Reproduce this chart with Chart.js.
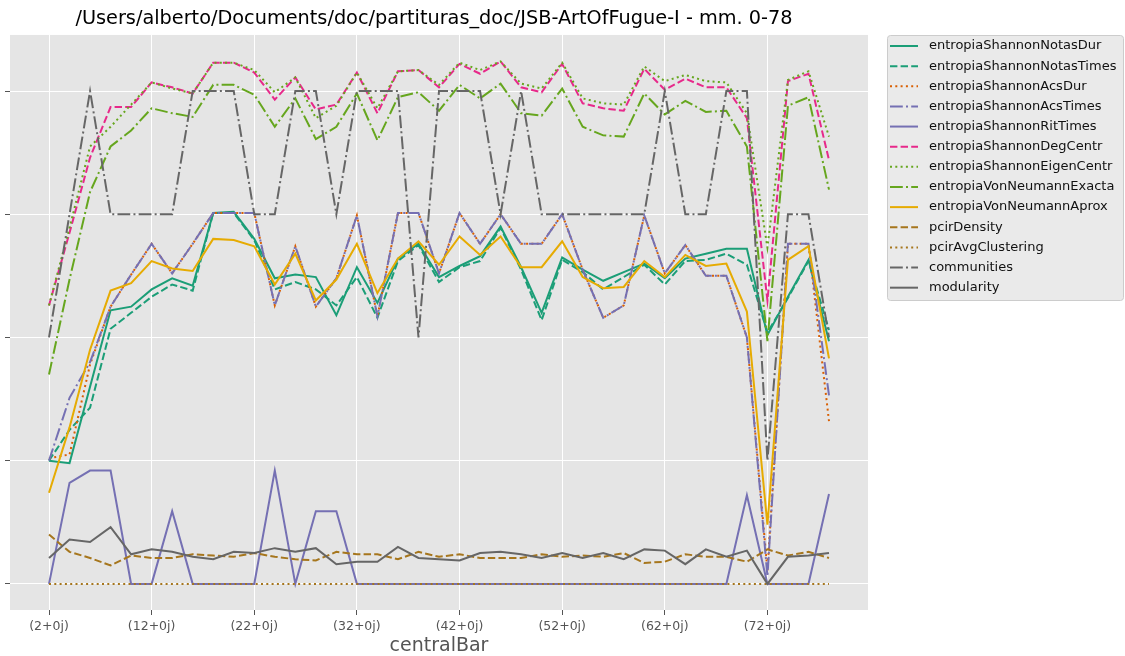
<!DOCTYPE html>
<html>
<head>
<meta charset="utf-8">
<title>JSB-ArtOfFugue-I - mm. 0-78</title>
<script src="https://cdn.jsdelivr.net/npm/chart.js@4.4.0/dist/chart.umd.min.js"></script>
<style>
  html, body { margin: 0; padding: 0; background: #fff; }
</style>
</head>
<body>
<canvas id="chart" width="1125" height="656"></canvas>
<script>
// x values (central bar of each window) and the bars that get a tick label
const centralBar = [2, 4, 6, 8, 10, 12, 14, 16, 18, 20, 22, 24, 26, 28, 30, 32, 34, 36, 38, 40,
  42, 44, 46, 48, 50, 52, 54, 56, 58, 60, 62, 64, 66, 68, 70, 72, 74, 76, 78]
const tickBars = [2, 12, 22, 32, 42, 52, 62, 72]

const notasDur = [1.00, 0.98, 1.60, 2.22, 2.25, 2.39, 2.48, 2.42, 3.01, 3.02, 2.80, 2.48, 2.51, 2.49, 2.18, 2.57, 2.28, 2.64, 2.76, 2.49,
  2.58, 2.66, 2.90, 2.57, 2.20, 2.65, 2.55, 2.46, 2.53, 2.60, 2.48, 2.64, 2.68, 2.72, 2.72, 2.02, 2.33, 2.63, 1.97]
const notasTimes = [1.00, 1.25, 1.43, 2.07, 2.20, 2.33, 2.43, 2.38, 3.01, 3.01, 2.79, 2.39, 2.45, 2.39, 2.26, 2.49, 2.16, 2.62, 2.75, 2.45,
  2.57, 2.62, 2.89, 2.55, 2.14, 2.63, 2.53, 2.39, 2.49, 2.59, 2.43, 2.62, 2.63, 2.68, 2.59, 2.04, 2.32, 2.62, 2.06]
const acsDur = [1.02, 1.05, 1.78, 2.25, 2.51, 2.76, 2.52, 2.76, 3.01, 3.01, 3.01, 2.26, 2.74, 2.25, 2.48, 2.99, 2.17, 3.01, 3.01, 2.52,
  3.01, 2.76, 3.00, 2.76, 2.76, 3.00, 2.55, 2.16, 2.26, 2.99, 2.52, 2.75, 2.50, 2.50, 2.00, 0.11, 2.76, 2.76, 1.32]
const acsTimes = [1.00, 1.51, 1.80, 2.25, 2.51, 2.76, 2.52, 2.76, 3.01, 3.01, 3.01, 2.26, 2.74, 2.25, 2.48, 2.99, 2.17, 3.01, 3.01, 2.52,
  3.01, 2.76, 3.00, 2.76, 2.76, 3.00, 2.55, 2.16, 2.26, 2.99, 2.52, 2.75, 2.50, 2.50, 2.00, 0.06, 2.76, 2.76, 1.53]
const ritTimes = [0, 0.82, 0.92, 0.92, 0, 0, 0.59, 0, 0, 0, 0, 0.92, 0, 0.59, 0.59, 0, 0, 0, 0, 0,
  0, 0, 0, 0, 0, 0, 0, 0, 0, 0, 0, 0, 0, 0, 0.72, 0, 0, 0, 0.73]
const degCentr = [2.26, 2.85, 3.46, 3.87, 3.87, 4.07, 4.03, 3.98, 4.23, 4.23, 4.15, 3.93, 4.11, 3.85, 3.89, 4.15, 3.82, 4.16, 4.17, 4.03,
  4.22, 4.14, 4.24, 4.03, 3.99, 4.22, 3.90, 3.86, 3.84, 4.18, 4.01, 4.10, 4.03, 4.03, 3.78, 2.30, 4.08, 4.14, 3.44]
const eigenCentr = [2.26, 2.89, 3.55, 3.71, 3.89, 4.07, 4.02, 3.98, 4.23, 4.23, 4.17, 3.99, 4.11, 3.78, 3.88, 4.15, 3.86, 4.16, 4.17, 4.05,
  4.23, 4.17, 4.24, 4.06, 4.02, 4.23, 3.94, 3.90, 3.89, 4.20, 4.08, 4.13, 4.08, 4.07, 3.82, 2.73, 4.09, 4.16, 3.63]
const vnExacta = [1.70, 2.47, 3.18, 3.55, 3.68, 3.86, 3.82, 3.79, 4.05, 4.05, 3.97, 3.71, 3.94, 3.61, 3.71, 3.98, 3.60, 3.95, 3.99, 3.84,
  4.05, 3.94, 4.06, 3.82, 3.80, 4.02, 3.71, 3.64, 3.63, 3.98, 3.81, 3.92, 3.83, 3.84, 3.55, 1.97, 3.88, 3.95, 3.20]
const vnAprox = [0.74, 1.27, 1.90, 2.38, 2.44, 2.62, 2.56, 2.54, 2.80, 2.79, 2.74, 2.43, 2.68, 2.30, 2.47, 2.76, 2.36, 2.64, 2.78, 2.59,
  2.82, 2.67, 2.82, 2.57, 2.57, 2.78, 2.49, 2.40, 2.41, 2.62, 2.49, 2.67, 2.58, 2.60, 2.21, 0.48, 2.63, 2.74, 1.83]
const pcirDensity = [0.40, 0.26, 0.21, 0.15, 0.23, 0.21, 0.21, 0.24, 0.23, 0.22, 0.25, 0.22, 0.20, 0.19, 0.26, 0.24, 0.24, 0.20, 0.26, 0.22,
  0.24, 0.21, 0.21, 0.21, 0.24, 0.22, 0.23, 0.22, 0.25, 0.17, 0.18, 0.24, 0.22, 0.22, 0.18, 0.28, 0.23, 0.26, 0.21]
const pcirAvgClustering = [0, 0, 0, 0, 0, 0, 0, 0, 0, 0, 0, 0, 0, 0, 0, 0, 0, 0, 0, 0,
  0, 0, 0, 0, 0, 0, 0, 0, 0, 0, 0, 0, 0, 0, 0, 0, 0, 0, 0]
const communities = [2, 3, 4, 3, 3, 3, 3, 4, 4, 4, 3, 3, 4, 4, 3, 4, 4, 4, 2, 4,
  4, 4, 3, 4, 3, 3, 3, 3, 3, 3, 4, 3, 3, 4, 4, 1, 3, 3, 2]
const modularity = [0.21, 0.36, 0.34, 0.46, 0.24, 0.28, 0.26, 0.22, 0.20, 0.26, 0.25, 0.29, 0.26, 0.29, 0.16, 0.18, 0.18, 0.30, 0.21, 0.20,
  0.19, 0.25, 0.26, 0.24, 0.21, 0.25, 0.21, 0.25, 0.20, 0.28, 0.27, 0.16, 0.28, 0.22, 0.27, 0, 0.22, 0.23, 0.25]

const DASH = {
  solid: [],
  dashed: [7.4, 3.2],
  dotted: [2, 3.3],
  dashdot: [12.8, 3.2, 2, 3.2],
}

// label, values, colour, line style (matplotlib Dark2 cycle)
const series = [
  ['entropiaShannonNotasDur', notasDur, '#1b9e77', 'solid'],
  ['entropiaShannonNotasTimes', notasTimes, '#1b9e77', 'dashed'],
  ['entropiaShannonAcsDur', acsDur, '#d95f02', 'dotted'],
  ['entropiaShannonAcsTimes', acsTimes, '#7570b3', 'dashdot'],
  ['entropiaShannonRitTimes', ritTimes, '#7570b3', 'solid'],
  ['entropiaShannonDegCentr', degCentr, '#e7298a', 'dashed'],
  ['entropiaShannonEigenCentr', eigenCentr, '#66a61e', 'dotted'],
  ['entropiaVonNeumannExacta', vnExacta, '#66a61e', 'dashdot'],
  ['entropiaVonNeumannAprox', vnAprox, '#e6ab02', 'solid'],
  ['pcirDensity', pcirDensity, '#a6761d', 'dashed'],
  ['pcirAvgClustering', pcirAvgClustering, '#a6761d', 'dotted'],
  ['communities', communities, '#666666', 'dashdot'],
  ['modularity', modularity, '#666666', 'solid'],
]

const datasets = series.map(([label, values, color, style], i) => ({
  label: label,
  data: centralBar.map((x, j) => ({ x: x, y: values[j] })),
  borderColor: color,
  backgroundColor: color,
  borderWidth: 2,
  borderDash: DASH[style],
  borderCapStyle: 'butt',
  pointRadius: 0,
  tension: 0,
  fill: false,
  // later series on top, like matplotlib
  order: series.length - i,
}))

const FONT = 'DejaVu Sans'

const plotBackground = {
  id: 'plotBackground',
  beforeDraw(chart) {
    const { ctx, chartArea } = chart
    ctx.save()
    ctx.fillStyle = '#E5E5E5'
    ctx.fillRect(chartArea.left, chartArea.top, chartArea.right - chartArea.left, chartArea.bottom - chartArea.top)
    ctx.restore()
  },
}

// matplotlib style legend outside the axes, with dashed line handles
const sideLegend = {
  id: 'sideLegend',
  afterDraw(chart) {
    const ctx = chart.ctx
    const x0 = 887, y0 = 35, w = 236, h = 265
    ctx.save()
    ctx.beginPath()
    ctx.roundRect(x0 + 0.5, y0 + 0.5, w, h, 3)
    ctx.fillStyle = '#EAEAEA'
    ctx.fill()
    ctx.strokeStyle = '#CCCCCC'
    ctx.lineWidth = 1
    ctx.stroke()
    chart.data.datasets.forEach((ds, i) => {
      const y = 46 + i * 20.14
      ctx.beginPath()
      ctx.setLineDash(ds.borderDash)
      ctx.strokeStyle = ds.borderColor
      ctx.lineWidth = 2
      ctx.moveTo(890, y)
      ctx.lineTo(918, y)
      ctx.stroke()
      ctx.setLineDash([])
      ctx.fillStyle = '#111'
      ctx.font = `13px "${FONT}"`
      ctx.textBaseline = 'middle'
      ctx.fillText(ds.label, 929, y)
    })
    ctx.restore()
  },
}

const gridOpts = {
  color: '#FFFFFF',
  lineWidth: 1,
  tickColor: '#555555',
  tickLength: 5,
  drawTicks: true,
}

new Chart(document.getElementById('chart'), {
  type: 'line',
  data: { datasets: datasets },
  options: {
    responsive: false,
    animation: false,
    devicePixelRatio: 1,
    layout: { padding: { left: 0, right: 257, top: 0, bottom: 0 } },
    plugins: {
      legend: { display: false },
      tooltip: { enabled: false },
      title: {
        display: true,
        text: '/Users/alberto/Documents/doc/partituras_doc/JSB-ArtOfFugue-I - mm. 0-78',
        color: '#000',
        font: { family: FONT, size: 19.3, weight: 'normal', lineHeight: 1.2 },
        padding: { top: 7, bottom: 4.8 },
      },
    },
    scales: {
      x: {
        type: 'linear',
        min: -1.8,
        max: 81.8,
        afterBuildTicks: (scale) => {
          scale.ticks = tickBars.map((v) => ({ value: v }))
        },
        afterFit: (scale) => {
          scale.height = 46
        },
        ticks: {
          autoSkip: false,
          maxRotation: 0,
          color: '#555555',
          padding: 4,
          font: { family: FONT, size: 12.5 },
          callback: (v) => `(${v}+0j)`,
        },
        grid: gridOpts,
        border: { display: false },
        title: {
          display: true,
          text: 'centralBar',
          color: '#555555',
          font: { family: FONT, size: 19, lineHeight: 1 },
          padding: { top: 0, bottom: 0 },
        },
      },
      y: {
        type: 'linear',
        min: -0.212,
        max: 4.455,
        afterBuildTicks: (scale) => {
          scale.ticks = [0, 1, 2, 3, 4].map((v) => ({ value: v }))
        },
        afterFit: (scale) => {
          scale.width = 10
        },
        ticks: {
          callback: () => '',
        },
        grid: gridOpts,
        border: { display: false },
      },
    },
  },
  plugins: [plotBackground, sideLegend],
})
</script>
</body>
</html>
